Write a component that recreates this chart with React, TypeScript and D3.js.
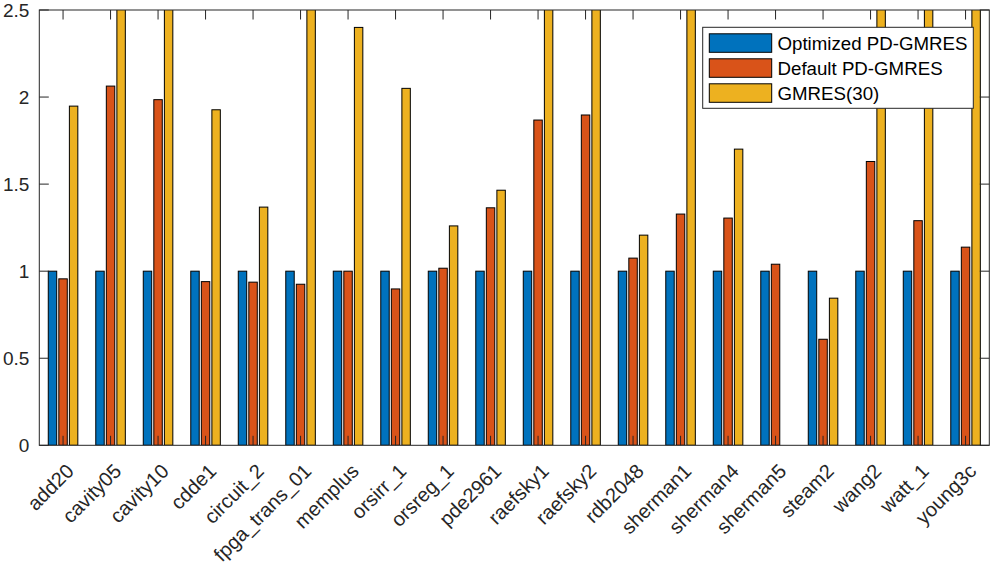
import React from "react";
import * as d3 from "d3";

// matrices on the x axis
const matrices = [
  "add20", "cavity05", "cavity10", "cdde1", "circuit_2", "fpga_trans_01",
  "memplus", "orsirr_1", "orsreg_1", "pde2961", "raefsky1", "raefsky2",
  "rdb2048", "sherman1", "sherman4", "sherman5", "steam2", "wang2",
  "watt_1", "young3c",
];

// normalised values (bars above 2.5 are cut off by the axes)
const optimized = [1, 1, 1, 1, 1, 1, 1, 1, 1, 1, 1, 1, 1, 1, 1, 1, 1, 1, 1, 1];
const defaultPd = [
  0.956, 2.063, 1.985, 0.94, 0.937, 0.925, 1.0, 0.898, 1.017, 1.364,
  1.868, 1.897, 1.075, 1.328, 1.305, 1.04, 0.609, 1.63, 1.29, 1.138,
];
const gmres30: (number | null)[] = [
  1.948, 3.0, 3.0, 1.927, 1.368, 3.0, 2.4, 2.05, 1.26, 1.465,
  3.0, 3.0, 1.207, 3.0, 1.701, null, 0.845, 3.0, 3.0, 3.0,
];

const seriesNames = ["Optimized PD-GMRES", "Default PD-GMRES", "GMRES(30)"];
const seriesColors = ["#0072BD", "#D95319", "#EDB120"];
const yTicks = [0, 0.5, 1, 1.5, 2, 2.5];

const W = 992;
const H = 565;
const left = 39.3;
const right = 989.3;
const top = 10;
const bottom = 445.3;
const axisColor = "#262626";
const font = "'Liberation Sans', Arial, sans-serif";

export default function App() {
  const x = d3.scaleLinear().domain([0.5, matrices.length + 0.5]).range([left, right]);
  const y = d3.scaleLinear().domain([0, 2.5]).range([bottom, top]);
  const series = [optimized, defaultPd, gmres30];
  const n = series.length;
  const groupWidth = Math.min(0.8, n / (n + 1.5));
  const slot = groupWidth / n;
  const barW = x(slot * 0.8) - x(0);
  const tickLen = 9.5;

  return (
    <svg width={W} height={H} style={{ position: "absolute", left: 0, top: 0, background: "#fff" }}>
      <defs>
        <clipPath id="plot">
          <rect x={left} y={top} width={right - left} height={bottom - top} />
        </clipPath>
      </defs>

      <g clipPath="url(#plot)">
        {series.map((vals, si) =>
          vals.map((v, i) => {
            if (v == null) return null;
            const cx = x(i + 1 + (si - (n - 1) / 2) * slot);
            return (
              <rect
                key={`${si}-${i}`}
                x={cx - barW / 2}
                y={y(v)}
                width={barW}
                height={y(0) - y(v)}
                fill={seriesColors[si]}
                stroke="#000"
                strokeWidth={1}
              />
            );
          })
        )}
      </g>

      {/* ticks */}
      <g stroke={axisColor} strokeWidth={1}>
        {matrices.map((_, i) => (
          <g key={i}>
            <line x1={x(i + 1)} x2={x(i + 1)} y1={bottom} y2={bottom - tickLen} />
            <line x1={x(i + 1)} x2={x(i + 1)} y1={top} y2={top + tickLen} />
          </g>
        ))}
        {yTicks.map((t) => (
          <g key={t}>
            <line x1={left} x2={left + tickLen} y1={y(t)} y2={y(t)} />
            <line x1={right} x2={right - tickLen} y1={y(t)} y2={y(t)} />
          </g>
        ))}
      </g>

      {/* axes box */}
      <rect x={left} y={top} width={right - left} height={bottom - top} fill="none" stroke={axisColor} strokeWidth={1} />

      {/* y labels */}
      {yTicks.map((t) => (
        <text
          key={t}
          x={left - 10}
          y={y(t)}
          dy="0.36em"
          textAnchor="end"
          fontFamily={font}
          fontSize={19}
          fill={axisColor}
        >
          {t}
        </text>
      ))}

      {/* x labels */}
      {matrices.map((m, i) => (
        <text
          key={m}
          transform={`translate(${x(i + 1) + 12},${bottom + 27}) rotate(-45)`}
          textAnchor="end"
          fontFamily={font}
          fontSize={20}
          fill={axisColor}
        >
          {m}
        </text>
      ))}

      {/* legend */}
      <g>
        <rect x={702.7} y={27.3} width={270.6} height={81} fill="#fff" stroke={axisColor} strokeWidth={1} />
        {seriesNames.map((s, i) => (
          <g key={s}>
            <rect
              x={709.3}
              y={33.8 + i * 25}
              width={62.4}
              height={18.5}
              fill={seriesColors[i]}
              stroke="#000"
              strokeWidth={1}
            />
            <text
              x={777.5}
              y={43 + i * 25}
              dy="0.36em"
              fontFamily={font}
              fontSize={18.7}
              fill="#000"
            >
              {s}
            </text>
          </g>
        ))}
      </g>
    </svg>
  );
}
